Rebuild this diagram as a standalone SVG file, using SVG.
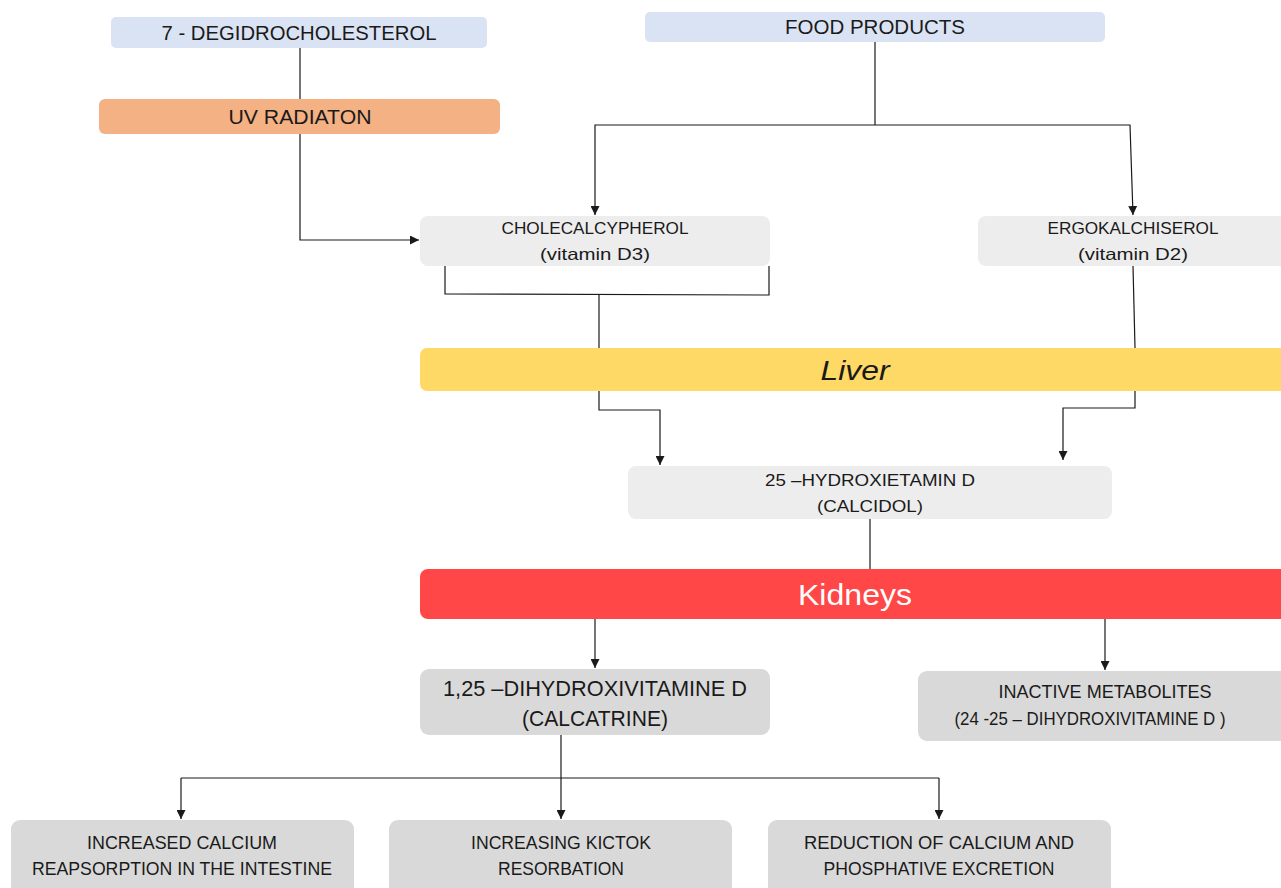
<svg xmlns="http://www.w3.org/2000/svg" width="1281" height="888" viewBox="0 0 1281 888">
<style>
text{font-family:"Liberation Sans",Arial,sans-serif;fill:#1a1a1a;text-anchor:middle;dominant-baseline:central}
.t20{font-size:20px}
.t17{font-size:16.5px}
.t18{font-size:18px}
.t22{font-size:22px}
.blue{fill:#dae3f3}
.lg{fill:#ededed}
.g{fill:#d9d9d9}
.ln{fill:none;stroke:#1a1a1a;stroke-width:1.2}
</style>
<defs>
<marker id="ah" viewBox="0 0 10 10" refX="10" refY="5" markerWidth="9" markerHeight="9" markerUnits="userSpaceOnUse" orient="auto">
<path d="M0,0 L10,5 L0,10 z" fill="#1a1a1a"/>
</marker>
</defs>
<rect width="1281" height="888" fill="#ffffff"/>
<g id="connectors">
<path class="ln" d="M300,48 L300,99"/>
<path class="ln" d="M300,134 L300,240 L419,240" marker-end="url(#ah)"/>
<path class="ln" d="M875,42 L875,125"/>
<path class="ln" d="M875,125 L595,125 L595,215" marker-end="url(#ah)"/>
<path class="ln" d="M875,125 L1130,125 L1133,215" marker-end="url(#ah)"/>
<path class="ln" d="M445,266 L445,294 L769,295 L769,266"/>
<path class="ln" d="M599,294 L599,348"/>
<path class="ln" d="M599,391 L599,410 L660,410 L660,465" marker-end="url(#ah)"/>
<path class="ln" d="M1133,266 L1135,348"/>
<path class="ln" d="M1135,391 L1135,408 L1063,408 L1063,460" marker-end="url(#ah)"/>
<path class="ln" d="M870,519 L870,569"/>
<path class="ln" d="M595,619 L595,668" marker-end="url(#ah)"/>
<path class="ln" d="M1105,619 L1105,670" marker-end="url(#ah)"/>
<path class="ln" d="M561,735 L561,778"/>
<path class="ln" d="M181,778 L939,778"/>
<path class="ln" d="M181,778 L181,819" marker-end="url(#ah)"/>
<path class="ln" d="M561,778 L561,819" marker-end="url(#ah)"/>
<path class="ln" d="M939,778 L939,819" marker-end="url(#ah)"/>
</g>
<g id="degidro">
<rect class="blue" x="111" y="17" width="376" height="31" rx="5"/>
<text class="t20" x="299" y="33" textLength="275" lengthAdjust="spacingAndGlyphs">7 - DEGIDROCHOLESTEROL</text>
</g>
<g id="food">
<rect class="blue" x="645" y="12" width="460" height="30" rx="5"/>
<text class="t20" x="875" y="27" textLength="180" lengthAdjust="spacingAndGlyphs">FOOD PRODUCTS</text>
</g>
<g id="uv">
<rect x="99" y="99" width="401" height="35" rx="6" fill="#f4b183"/>
<text class="t20" x="300" y="117" textLength="143" lengthAdjust="spacingAndGlyphs">UV RADIATON</text>
</g>
<g id="chole">
<rect class="lg" x="420" y="216" width="350" height="50" rx="8"/>
<text class="t17" x="595" y="228" textLength="187" lengthAdjust="spacingAndGlyphs">CHOLECALCYPHEROL</text>
<text class="t17" x="595" y="254" textLength="110" lengthAdjust="spacingAndGlyphs">(vitamin D3)</text>
</g>
<g id="ergo">
<rect class="lg" x="978" y="216" width="320" height="50" rx="8"/>
<text class="t17" x="1133" y="228" textLength="171" lengthAdjust="spacingAndGlyphs">ERGOKALCHISEROL</text>
<text class="t17" x="1133" y="254" textLength="110" lengthAdjust="spacingAndGlyphs">(vitamin D2)</text>
</g>
<g id="liver">
<rect x="420" y="348" width="880" height="43" rx="7" fill="#ffd966"/>
<text x="855" y="370" style="font-size:28px;font-style:italic" textLength="69" lengthAdjust="spacingAndGlyphs">Liver</text>
</g>
<g id="calcidol">
<rect class="lg" x="628" y="466" width="484" height="53" rx="8"/>
<text class="t17" x="870" y="480" textLength="210" lengthAdjust="spacingAndGlyphs">25 –HYDROXIETAMIN D</text>
<text class="t17" x="870" y="506" textLength="106" lengthAdjust="spacingAndGlyphs">(CALCIDOL)</text>
</g>
<g id="kidneys">
<rect x="420" y="569" width="880" height="50" rx="8" fill="#ff4747"/>
<text x="855" y="595" style="font-size:29px;fill:#ffffff" textLength="114" lengthAdjust="spacingAndGlyphs">Kidneys</text>
</g>
<g id="calcatrine">
<rect class="g" x="420" y="669" width="350" height="66" rx="9"/>
<text class="t22" x="595" y="688" textLength="304" lengthAdjust="spacingAndGlyphs">1,25 –DIHYDROXIVITAMINE D</text>
<text class="t22" x="595" y="718" textLength="146" lengthAdjust="spacingAndGlyphs">(CALCATRINE)</text>
</g>
<g id="inactive">
<rect class="g" x="918" y="671" width="380" height="70" rx="9"/>
<text class="t18" x="1105" y="692" textLength="213" lengthAdjust="spacingAndGlyphs">INACTIVE METABOLITES</text>
<text class="t18" x="1090" y="719" textLength="271" lengthAdjust="spacingAndGlyphs">(24 -25 – DIHYDROXIVITAMINE D )</text>
</g>
<g id="intestine">
<rect class="g" x="11" y="820" width="343" height="80" rx="9"/>
<text class="t18" x="182" y="843" textLength="190" lengthAdjust="spacingAndGlyphs">INCREASED CALCIUM</text>
<text class="t18" x="182" y="869" textLength="300" lengthAdjust="spacingAndGlyphs">REAPSORPTION IN THE INTESTINE</text>
</g>
<g id="kictok">
<rect class="g" x="389" y="820" width="343" height="80" rx="9"/>
<text class="t18" x="561" y="843" textLength="180" lengthAdjust="spacingAndGlyphs">INCREASING KICTOK</text>
<text class="t18" x="561" y="869" textLength="126" lengthAdjust="spacingAndGlyphs">RESORBATION</text>
</g>
<g id="excretion">
<rect class="g" x="768" y="820" width="343" height="80" rx="9"/>
<text class="t18" x="939" y="843" textLength="270" lengthAdjust="spacingAndGlyphs">REDUCTION OF CALCIUM AND</text>
<text class="t18" x="939" y="869" textLength="231" lengthAdjust="spacingAndGlyphs">PHOSPHATIVE EXCRETION</text>
</g>
</svg>
